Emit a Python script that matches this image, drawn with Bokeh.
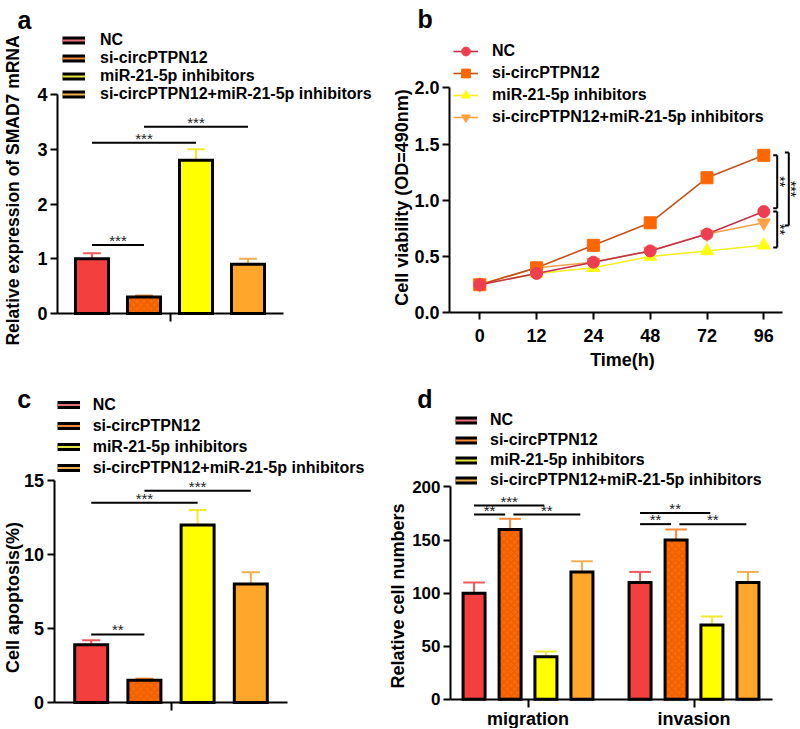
import numpy as np
from bokeh.plotting import figure
from bokeh.models import Range1d, FixedTicker, Legend, LegendItem, Label, NumeralTickFormatter
from bokeh.layouts import row, column
from bokeh.embed import file_html
from bokeh.resources import INLINE
from bokeh.core.properties import value

FONT = "Liberation Sans"

# ---------------- data ----------------
groups = ["NC", "si-circPTPN12", "miR-21-5p inhibitors", "si-circPTPN12+miR-21-5p inhibitors"]

# panel a: relative expression of SMAD7 mRNA
a_values = [1.0, 0.3, 2.8, 0.9]
a_errors = [0.1, 0.03, 0.2, 0.1]
a_yticks = [0, 1, 2, 3, 4]
a_sig = [(0, 1, 1.25, "***"), (0, 2, 3.12, "***"), (1, 3, 3.41, "***")]

# panel b: cell viability over time
b_times = ["0", "12", "24", "48", "72", "96"]
b_nc = [0.25, 0.35, 0.45, 0.55, 0.70, 0.90]
b_si = [0.25, 0.40, 0.60, 0.80, 1.20, 1.40]
b_mir = [0.25, 0.35, 0.40, 0.50, 0.55, 0.60]
b_combo = [0.25, 0.40, 0.45, 0.55, 0.70, 0.80]
b_nc_err = [0.01, 0.02, 0.02, 0.02, 0.03, 0.04]
b_si_err = [0.01, 0.02, 0.03, 0.03, 0.05, 0.03]
b_mir_err = [0.01, 0.01, 0.02, 0.02, 0.02, 0.02]
b_combo_err = [0.01, 0.02, 0.02, 0.02, 0.03, 0.03]
b_yticks = [0, 0.5, 1.0, 1.5, 2.0]
b_brackets = [(1.40, 0.93, "**"), (1.425, 0.775, "***"), (0.90, 0.58, "**")]

# panel c: cell apoptosis
c_values = [3.9, 1.5, 12.0, 8.0]
c_errors = [0.3, 0.1, 1.0, 0.8]
c_yticks = [0, 5, 10, 15]
c_sig = [(0, 1, 4.6, "**"), (0, 2, 13.5, "***"), (1, 3, 14.3, "***")]

# panel d: relative cell numbers
d_categories = ["migration", "invasion"]
d_nc = [100, 110]
d_si = [160, 150]
d_mir = [40, 70]
d_combo = [120, 110]
d_nc_err = [10, 10]
d_si_err = [10, 10]
d_mir_err = [5, 8]
d_combo_err = [10, 10]
d_yticks = [0, 50, 100, 150, 200]
d_sig = [(0, 0, 2, 182.5, "***"), (0, 0, 1, 174, "**"), (0, 1, 3, 174, "**"),
         (1, 0, 2, 175.5, "**"), (1, 0, 1, 165, "**"), (1, 1, 3, 165, "**")]

# ---------------- styles ----------------
bar_fill = ["#F43F3F", "#FF6A00", "#FFFF00", "#FFA62B"]
err_color = ["#EE5A5A", "#F58A3A", "#F0EA30", "#F2AE50"]
patch_mid = ["#E8707A", "#F58A3A", "#E6E640", "#F0B050"]
line_color_b = ["#C0304A", "#C4521C", "#F5EE20", "#F2A04A"]
marker_fill_b = ["#EE3E50", "#FF6600", "#FFFF10", "#FFA040"]
marker_b = ["circle", "square", "triangle", "inverted_triangle"]


def make_fig(w, h, xr, yr):
    p = figure(width=w, height=h, x_range=Range1d(*xr), y_range=Range1d(*yr),
               output_backend="svg", toolbar_location=None,
               min_border=0, min_border_left=0, min_border_right=0,
               min_border_top=0, min_border_bottom=0)
    p.grid.visible = False
    p.outline_line_color = None
    p.background_fill_color = "white"
    p.border_fill_color = "white"
    return p


def style_axes(p, xloc, yloc, xb, yb, tick_size="18px"):
    for ax in p.axis:
        ax.axis_line_width = 2
        ax.axis_line_color = "black"
        ax.major_tick_line_width = 2
        ax.major_tick_line_color = "black"
        ax.major_tick_in = 0
        ax.major_tick_out = 7
        ax.minor_tick_line_color = None
        ax.major_label_text_font = FONT
        ax.major_label_text_font_style = "bold"
        ax.major_label_text_font_size = tick_size
        ax.major_label_text_color = "black"
        ax.major_label_standoff = 3
    p.yaxis.fixed_location = xloc
    p.xaxis.fixed_location = yloc
    p.xaxis.bounds = xb
    p.yaxis.bounds = yb


def text_label(p, txt, x, y, size="18px", angle=0.0, align="center", baseline="middle"):
    p.add_layout(Label(x=x, y=y, x_units="screen", y_units="screen", text=txt,
                       angle=angle, text_align=align, text_baseline=baseline,
                       text_font=FONT, text_font_style="bold", text_font_size=size,
                       text_color="black"))


def add_legend(p, rlist, loc, gw, gh, standoff, spacing=0):
    items = [LegendItem(label=g, renderers=rs) for g, rs in zip(groups, rlist)]
    leg = Legend(items=items, location=loc, glyph_width=gw, glyph_height=gh,
                 label_height=gh, label_width=10, spacing=spacing, padding=0, margin=0,
                 label_standoff=standoff, border_line_color=None,
                 background_fill_alpha=0, label_text_font=FONT,
                 label_text_font_style="bold", label_text_font_size="16px",
                 label_text_color="black")
    p.add_layout(leg)


def patch_renderers(p):
    # legend-only helpers: a single NaN point draws nothing on the plot
    out = []
    for c in patch_mid:
        rb = p.line(x=[0], y=[float("nan")], line_color="black", line_width=8, line_cap="butt")
        rc = p.line(x=[0], y=[float("nan")], line_color=c, line_width=2, line_cap="butt")
        out.append([rb, rc])
    return out


def draw_bars(p, xs, values, errors, width, cap, series_idx):
    for xi, v, e, k in zip(xs, values, errors, series_idx):
        top = v + e
        p.segment(x0=[xi], y0=[v], x1=[xi], y1=[top], line_color=err_color[k], line_width=2)
        p.segment(x0=[xi - cap], y0=[top], x1=[xi + cap], y1=[top], line_color=err_color[k], line_width=2)
        kw = {}
        if k == 1:
            kw = dict(hatch_pattern="x", hatch_color="#C84A00", hatch_alpha=0.35,
                      hatch_scale=7, hatch_weight=1.5)
        p.vbar(x=[xi], top=[v], bottom=0, width=width, fill_color=bar_fill[k],
               line_color="black", line_width=3, line_join="miter", **kw)


def draw_sig(p, x0, x1, yv, lab):
    p.segment(x0=[x0], y0=[yv], x1=[x1], y1=[yv], line_color="black", line_width=2)
    p.text(x=[(x0 + x1) / 2], y=[yv], text=[lab], text_align="center",
           text_baseline="alphabetic", y_offset=-4.5, text_font=value(FONT),
           text_font_size="15px", text_color="#222222")


# ---------------- panel a ----------------
pa = make_fig(388, 370, (-1.7596, 5.7019), (-1.0411, 5.7169))
xa = list(range(len(a_values)))
la = patch_renderers(pa)
draw_bars(pa, xa, a_values, a_errors, 0.635, 0.17, xa)
for i, j, yv, lab in a_sig:
    draw_sig(pa, xa[i], xa[j], yv, lab)
style_axes(pa, -0.6635, 0, (-0.6635, 3.683), (0, 4))
pa.yaxis.ticker = FixedTicker(ticks=a_yticks)
pa.xaxis.ticker = FixedTicker(ticks=[1.5])
pa.xaxis.major_label_overrides = {1.5: ""}
pa.xaxis.major_tick_out = 8
add_legend(pa, la, (62, 266.6), 23, 18, 15, spacing=-1)
text_label(pa, "a", 17, 351, size="25px", align="left", baseline="alphabetic")
text_label(pa, "Relative expression of SMAD7 mRNA", 12, 180, size="17.5px", angle=np.pi / 2)

# ---------------- panel b ----------------
pb = make_fig(411, 370, (-1.6074, 5.6285), (-0.5129, 2.776))
xb = list(range(len(b_times)))
b_series = [b_nc, b_si, b_mir, b_combo]
b_errs = [b_nc_err, b_si_err, b_mir_err, b_combo_err]
line_r = [None] * 4
mark_r = [None] * 4
for k in [3, 2, 1, 0]:
    line_r[k] = pb.line(x=xb, y=b_series[k], line_color=line_color_b[k], line_width=1.6)
for k in [3, 2, 1, 0]:
    ys = b_series[k]
    es = b_errs[k]
    pb.segment(x0=xb, y0=[y - e for y, e in zip(ys, es)], x1=xb, y1=[y + e for y, e in zip(ys, es)],
               line_color=line_color_b[k], line_width=1.5)
    pb.segment(x0=[x - 0.06 for x in xb], y0=[y + e for y, e in zip(ys, es)],
               x1=[x + 0.06 for x in xb], y1=[y + e for y, e in zip(ys, es)],
               line_color=line_color_b[k], line_width=1.5)
    sz = 12 if k in (0, 1) else 13
    mark_r[k] = pb.scatter(x=xb, y=ys, marker=marker_b[k], size=sz,
                           fill_color=marker_fill_b[k], line_color=marker_fill_b[k])
bx_inner, bx_outer = 5.236, 5.44
bxs = [bx_inner, bx_outer, bx_inner]
for (y0, y1, lab), bx in zip(b_brackets, bxs):
    pb.segment(x0=[bx, bx - 0.07, bx - 0.07], y0=[y0, y0, y1], x1=[bx, bx, bx], y1=[y1, y0, y1],
               line_color="black", line_width=2)
    pb.text(x=[bx + 0.045], y=[(y0 + y1) / 2], text=[lab], angle=-np.pi / 2,
            text_align="center", text_baseline="middle", text_font=value(FONT),
            text_font_size="14px", text_color="black")
style_axes(pb, -0.5335, 0, (-0.5335, 5.33), (0, 2))
pb.yaxis.ticker = FixedTicker(ticks=b_yticks)
pb.yaxis.formatter = NumeralTickFormatter(format="0.0")
pb.xaxis.ticker = FixedTicker(ticks=xb)
pb.xaxis.major_label_overrides = {i: t for i, t in enumerate(b_times)}
pb.xaxis.major_label_standoff = 9
add_legend(pb, [[line_r[k], mark_r[k]] for k in range(4)], (65, 242.3), 25, 22, 14)
text_label(pb, "b", 29, 351.3, size="25px", align="left", baseline="alphabetic")
text_label(pb, "Cell viability (OD=490nm)", 13, 173, angle=np.pi / 2)
text_label(pb, "Time(h)", 234, 10.5)

# ---------------- panel c ----------------
pc = make_fig(388, 358, (-1.7049, 5.5883), (-1.7568, 22.4324))
xc = list(range(len(c_values)))
lc = patch_renderers(pc)
draw_bars(pc, xc, c_values, c_errors, 0.62, 0.17, xc)
for i, j, yv, lab in c_sig:
    draw_sig(pc, xc[i], xc[j], yv, lab)
style_axes(pc, -0.699, 0, (-0.699, 3.69), (0, 15))
pc.yaxis.ticker = FixedTicker(ticks=c_yticks)
pc.xaxis.ticker = FixedTicker(ticks=[1.5])
pc.xaxis.major_label_overrides = {1.5: ""}
pc.xaxis.major_tick_out = 8
add_legend(pc, lc, (56.7, 249.8), 23, 21, 13)
text_label(pc, "c", 16.7, 329.3, size="25px", align="left", baseline="alphabetic")
text_label(pc, "Cell apoptosis(%)", 12, 131, angle=np.pi / 2)

# ---------------- panel d ----------------
pd_ = make_fig(411, 358, (-0.8404, 1.6355), (-27.508, 309.75))
offs = [-0.325, -0.108, 0.108, 0.325]
d_series = [d_nc, d_si, d_mir, d_combo]
d_errs = [d_nc_err, d_si_err, d_mir_err, d_combo_err]
ld = patch_renderers(pd_)
for g in range(len(d_categories)):
    xs = [g + o for o in offs]
    draw_bars(pd_, xs, [s[g] for s in d_series], [e[g] for e in d_errs], 0.1325, 0.065, [0, 1, 2, 3])
for g, i, j, yv, lab in d_sig:
    x0 = g + offs[i] + (0.02 if i == 1 else 0.0)
    x1 = g + offs[j] - (0.03 if j == 1 else 0.01)
    draw_sig(pd_, x0, x1, yv, lab)
style_axes(pd_, -0.4669, 0, (-0.4669, 1.473), (0, 200), tick_size="17px")
pd_.yaxis.ticker = FixedTicker(ticks=d_yticks)
pd_.xaxis.ticker = FixedTicker(ticks=[0, 1])
pd_.xaxis.major_label_overrides = {i: c for i, c in enumerate(d_categories)}
pd_.xaxis.major_label_text_font_size = "18px"
pd_.xaxis.major_label_standoff = 2
pd_.xaxis.major_tick_out = 8
add_legend(pd_, ld, (67, 238), 22, 20, 13)
text_label(pd_, "d", 28.7, 329.3, size="25px", align="left", baseline="alphabetic")
text_label(pd_, "Relative  cell numbers", 9, 135, angle=np.pi / 2)

layout = column(row(pa, pb), row(pc, pd_))
open("out.html", "w").write(file_html(layout, INLINE))
